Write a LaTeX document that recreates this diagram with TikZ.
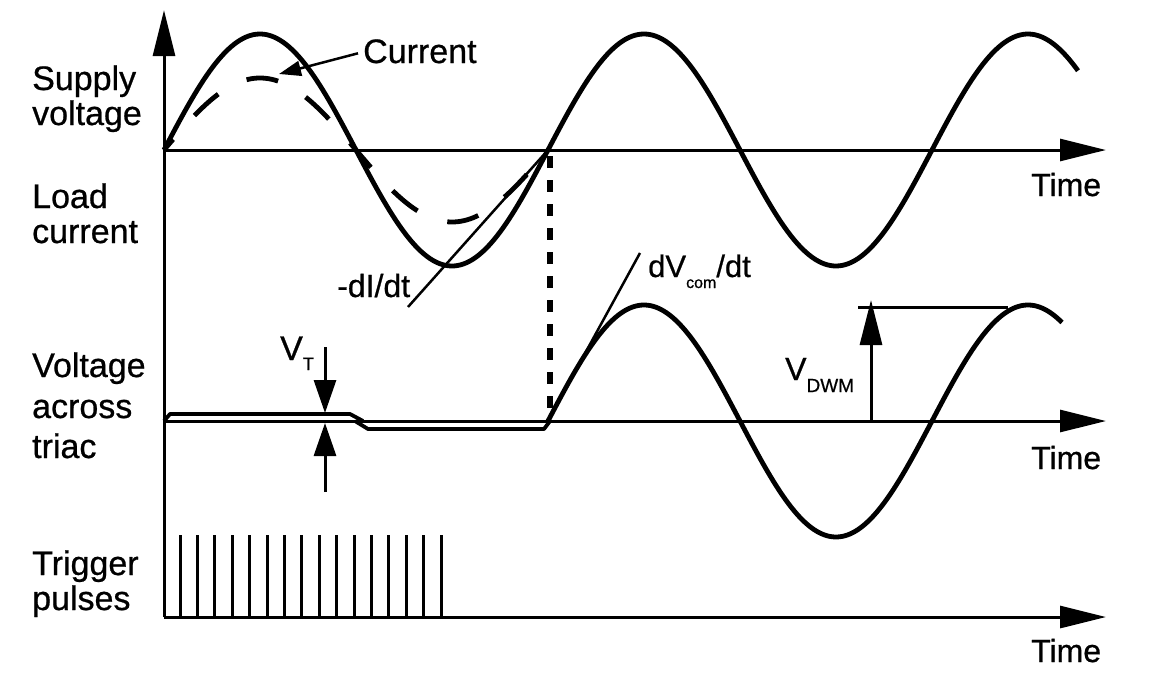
\documentclass[tikz,border=0pt]{standalone}
\usepackage{fontspec}
\setmainfont{Liberation Sans}[FakeBold=0.7]
\usetikzlibrary{arrows.meta}
\begin{document}
\begin{tikzpicture}[x=1pt,y=-1pt,
  axisline/.style={line width=3pt,-{Triangle[length=46pt,width=22pt]}},
  wave/.style={line width=4.8pt,line join=round},
  tangent/.style={line width=2.5pt},
  bandline/.style={line width=3.8pt,line join=round},
  lbl/.style={anchor=base west,inner sep=0pt,font=\fontsize{34}{40}\selectfont},
  smlbl/.style={anchor=base west,inner sep=0pt,font=\fontsize{32}{38}\selectfont}]
\useasboundingbox (0,0) rectangle (1152,680);

% key coordinates
\coordinate (O) at (164,617);
\coordinate (Ytip) at (164,10);
\coordinate (A1) at (164,150);
\coordinate (A1tip) at (1106,150);
\coordinate (A2) at (164,421);
\coordinate (A2tip) at (1106,421);
\coordinate (A3tip) at (1106,617);
\coordinate (Z1) at (548,150);
\coordinate (Z2) at (548,421);

% axes
\draw[axisline] (O) -- (Ytip);
\draw[axisline] (A1) -- (A1tip);
\draw[axisline] (A2) -- (A2tip);
\draw[axisline] (O) -- (A3tip);

% supply voltage
\draw[wave] plot[domain=164:1078,samples=300] (\x,{150-116*sin(0.9375*(\x-164))});
% load current (dashed)
\draw[wave,dash pattern=on 32pt off 32pt,dash phase=18pt] plot[domain=164:548,samples=150] (\x,{150-72*sin(0.9375*(\x-164))});

% -dI/dt tangent
\coordinate (dIa) at (408,307);
\draw[tangent] (dIa) -- (Z1);
\node[smlbl] (dIdt) at (337,297) {-dI/dt};

% Current label and arrow
\node[lbl] (cur) at (363,63) {Current};
\coordinate (curtip) at (279,74);
\draw[tangent,-{Triangle[length=22pt,width=15pt]}] ([xshift=-5pt,yshift=-2pt]cur.west) -- (curtip);

% dashed vertical line
\draw[line width=5.5pt,dash pattern=on 12pt off 12pt] (550,156) -- (550,418);

% voltage across triac: band
\draw[bandline] (164,421) -- (170,414) -- (350,414) -- (363,421);
\draw[bandline] (355,421) -- (368,429) -- (544,429) -- (550,421);
% voltage across triac: sine
\draw[wave] plot[domain=548:1062,samples=200] (\x,{421-116*sin(0.9375*(\x-164))});

% dVcom/dt tangent
\coordinate (dVb) at (640,253);
\draw[tangent] (Z2) -- (dVb);
\node[smlbl,font=\fontsize{31}{36}\selectfont] (dVdt) at (648,277) {dV\raisebox{-11pt}{\fontsize{16}{16}\selectfont com}/dt};

% V_T arrows
\coordinate (vt1) at (325,347);
\coordinate (vt1t) at (325,413);
\coordinate (vt2) at (325,492);
\coordinate (vt2t) at (325,423);
\draw[line width=3pt,-{Triangle[length=33pt,width=22pt]}] (vt1) -- (vt1t);
\draw[line width=3pt,-{Triangle[length=33pt,width=22pt]}] (vt2) -- (vt2t);
\node[lbl] (VT) at (280,360) {V\raisebox{-10pt}{\fontsize{18}{18}\selectfont T}};

% V_DWM
\coordinate (dwm0) at (871,421);
\coordinate (dwmt) at (871,300);
\coordinate (h1) at (858,307);
\coordinate (h2) at (1008,307);
\draw[line width=3pt] (h1) -- (h2);
\draw[line width=3pt,-{Triangle[length=45pt,width=22pt]}] (dwm0) -- (dwmt);
\node[smlbl] (VDWM) at (785,380) {V\raisebox{-12pt}{\fontsize{19}{19}\selectfont DWM}};

% trigger pulses
\foreach \i in {0,...,15}{
  \draw[line width=3pt] ({180+17.4*\i},617) -- ({180+17.4*\i},535);
}

% left labels
\node[lbl] (l1) at (32,90) {Supply};
\node[lbl] (l2) at (32,125) {voltage};
\node[lbl] (l3) at (32,208) {Load};
\node[lbl] (l4) at (32,243) {current};
\node[lbl] (l5) at (32,377) {Voltage};
\node[lbl] (l6) at (32,418) {across};
\node[lbl] (l7) at (32,458) {triac};
\node[lbl] (l8) at (32,575) {Trigger};
\node[lbl] (l9) at (32,610) {pulses};

% time labels
\node[smlbl] (t1) at (1031,196) {Time};
\node[smlbl] (t2) at (1031,469) {Time};
\node[smlbl] (t3) at (1031,662) {Time};
\end{tikzpicture}
\end{document}
